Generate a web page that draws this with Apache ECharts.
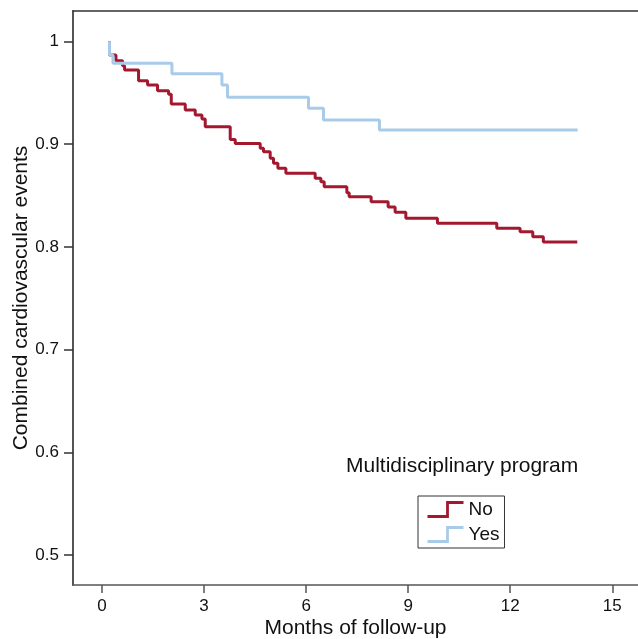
<!DOCTYPE html>
<html>
<head>
<meta charset="utf-8">
<script src="https://cdn.jsdelivr.net/npm/echarts@6/dist/echarts.min.js"></script>
<style>html,body{margin:0;padding:0;background:#fff}#c{width:638px;height:639px}</style>
</head>
<body>
<div id="c"></div>
<script>
// Kaplan-Meier style step data (time in months, survival after each step)
const monthsNo = [0.22, 0.22, 0.411, 0.605, 0.664, 1.075, 1.340, 1.633, 1.957, 2.036, 2.447, 2.741, 2.938, 3.035, 3.769, 3.916, 4.651, 4.747, 4.944, 5.041, 5.170, 5.405, 6.266, 6.434, 6.531, 7.197, 7.265, 7.911, 8.411, 8.616, 8.931, 9.859, 11.604, 12.289, 12.662, 12.973, 13.97];
const survNo   = [1.0, 0.9869, 0.9813, 0.9764, 0.9722, 0.9618, 0.9576, 0.9521, 0.9486, 0.9391, 0.9333, 0.9284, 0.9245, 0.9170, 0.9046, 0.9007, 0.8960, 0.8927, 0.8863, 0.8814, 0.8765, 0.8717, 0.8668, 0.8635, 0.8586, 0.8528, 0.8489, 0.8440, 0.8389, 0.8337, 0.8278, 0.8230, 0.8181, 0.8148, 0.8099, 0.8048, 0.8048];
const monthsYes = [0.22, 0.22, 0.323, 2.056, 3.525, 3.69, 6.07, 6.51, 8.155, 13.98];
const survYes   = [1.0, 0.9869, 0.9788, 0.9686, 0.9576, 0.9457, 0.935, 0.9236, 0.9138, 0.9138];
const xTicks = [0, 3, 6, 9, 12, 15];
const yTicks = [0.5, 0.6, 0.7, 0.8, 0.9, 1];
const seriesNames = ['No', 'Yes'];
const legendTitle = 'Multidisciplinary program';
const xName = 'Months of follow-up';
const yName = 'Combined cardiovascular events';

const colNo = '#a3182f';
const colYes = '#a9cbea';
const font = 'Liberation Sans, Arial, Helvetica, sans-serif';

const pair = (xs, ys) => xs.map((x, i) => [x, ys[i]]);

const chart = echarts.init(document.getElementById('c'), null, {renderer: 'canvas'});
chart.setOption({
  animation: false,
  backgroundColor: '#fff',
  textStyle: {fontFamily: font},
  title: {
    text: legendTitle,
    left: 346, top: 456, padding: 0,
    textStyle: {fontFamily: font, fontSize: 21, fontWeight: 'normal', color: '#111'}
  },
  grid: {left: 73, top: 11, right: 0, bottom: 54, containLabel: false, outerBoundsMode: 'none'},
  legend: {
    orient: 'vertical',
    left: 418, top: 496,
    padding: [3, 5, 3, 7],
    borderColor: '#333', borderWidth: 1,
    itemWidth: 36, itemHeight: 14, itemGap: 4,
    icon: 'path://M0,14 L20,14 L20,0 L36,0',
    textStyle: {fontFamily: font, fontSize: 19, color: '#111', lineHeight: 21},
    data: [
      {name: seriesNames[0], itemStyle: {color: 'none', borderColor: colNo, borderWidth: 2.8}},
      {name: seriesNames[1], itemStyle: {color: 'none', borderColor: colYes, borderWidth: 2.8}}
    ]
  },
  xAxis: [{
    type: 'value',
    min: -0.852, max: 15.755,
    name: xName, nameLocation: 'middle', nameGap: 33, nameMoveOverlap: false,
    nameTextStyle: {fontFamily: font, fontSize: 21, color: '#111'},
    axisLine: {show: true, onZero: false, lineStyle: {color: '#555', width: 1.5}},
    axisTick: {show: true, length: 8, customValues: xTicks, lineStyle: {color: '#555', width: 1.5}},
    axisLabel: {show: true, margin: 13, customValues: xTicks, fontFamily: font, fontSize: 17, color: '#111',
      formatter: v => String(v)},
    splitLine: {show: false}
  }, {
    type: 'value', position: 'top',
    min: -0.852, max: 15.755,
    axisLine: {show: true, onZero: false, lineStyle: {color: '#333', width: 1.5}},
    axisTick: {show: false}, axisLabel: {show: false}, splitLine: {show: false}
  }],
  yAxis: {
    type: 'value',
    min: 0.4708, max: 1.0297,
    name: yName, nameLocation: 'middle', nameGap: 41, nameRotate: 90, nameMoveOverlap: false,
    nameTextStyle: {fontFamily: font, fontSize: 21, color: '#111'},
    axisLine: {show: true, onZero: false, lineStyle: {color: '#555', width: 2}},
    axisTick: {show: true, length: 9, customValues: yTicks, lineStyle: {color: '#333', width: 1.5}},
    axisLabel: {show: true, margin: 14, customValues: yTicks, fontFamily: font, fontSize: 17, color: '#111',
      formatter: v => (Math.abs(v - 1) < 1e-9 ? '1' : v.toFixed(1))},
    splitLine: {show: false}
  },
  series: [{
    name: seriesNames[0], type: 'line', step: 'end',
    data: pair(monthsNo, survNo),
    showSymbol: false, symbol: 'none',
    lineStyle: {color: colNo, width: 3},
    itemStyle: {color: colNo}
  }, {
    name: seriesNames[1], type: 'line', step: 'end',
    data: pair(monthsYes, survYes),
    showSymbol: false, symbol: 'none',
    lineStyle: {color: colYes, width: 3},
    itemStyle: {color: colYes}
  }]
});
</script>
</body>
</html>
